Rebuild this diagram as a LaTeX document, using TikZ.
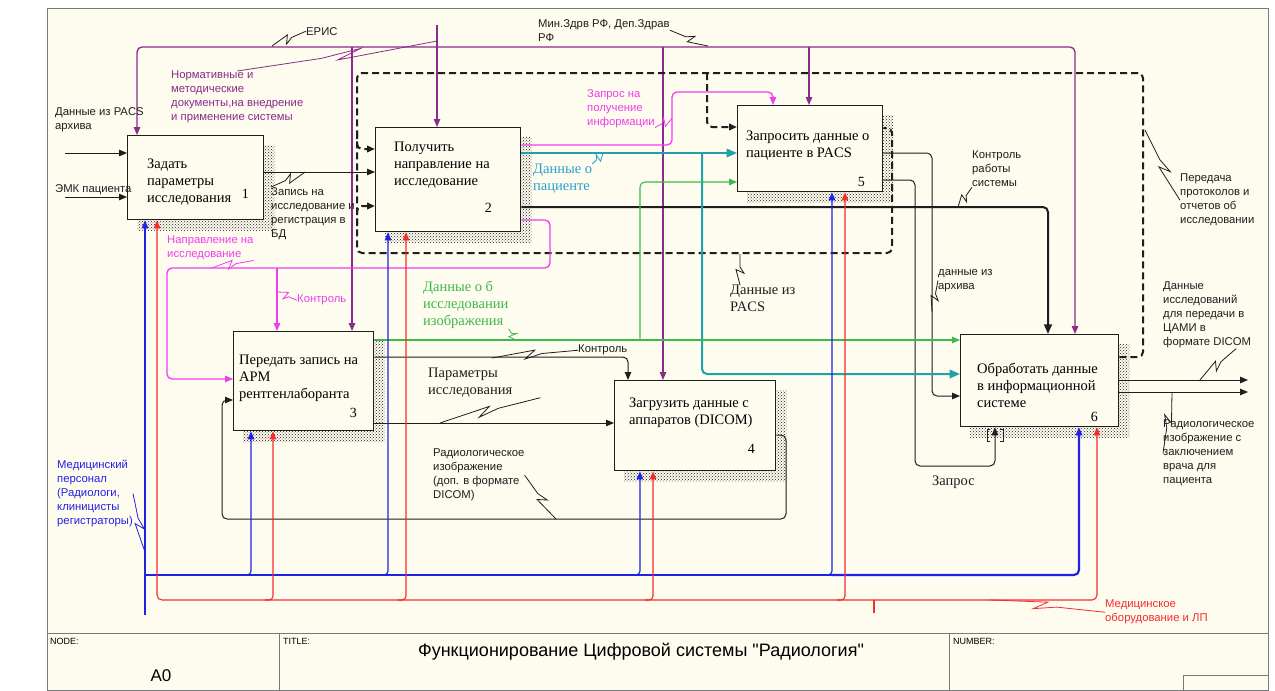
\documentclass[tikz,border=0pt]{standalone}
\usepackage{fontspec}
\setmainfont{Liberation Serif}
\setsansfont{Liberation Sans}
\newfontfamily\titlesans{Liberation Sans}
\usetikzlibrary{arrows.meta, calc, patterns, backgrounds}
\definecolor{idefbg}{HTML}{FEFBEF}
\definecolor{idefframe}{HTML}{7A7A7A}
\definecolor{idefink}{HTML}{1E1E1E}
\definecolor{idefpurple}{HTML}{8B2B8B}
\definecolor{idefmagenta}{HTML}{EE3FEE}
\definecolor{idefteal}{HTML}{1FA3A8}
\definecolor{idefcyan}{HTML}{2A9FD0}
\definecolor{idefgreen}{HTML}{3CB94A}
\definecolor{idefblue}{HTML}{2222E4}
\definecolor{idefred}{HTML}{F42C2C}

\begin{document}
\begin{tikzpicture}[
  x=1pt, y=-1pt,
  func/.style={draw=idefink, line width=1.3pt, fill=idefbg, inner sep=0pt,
    anchor=north west},
  ftxt/.style={anchor=north west, align=left, inner sep=0pt,
    font=\fontsize{14.5}{17}\selectfont},
  fnum/.style={anchor=center, inner sep=0pt, font=\fontsize{14}{16}\selectfont},
  lbl/.style={anchor=north west, align=left, inner sep=0pt,
    font=\sffamily\fontsize{11.3}{14}\selectfont, text=#1},
  lbl/.default=idefink,
  slbl/.style={anchor=north west, align=left, inner sep=0pt,
    font=\fontsize{14.5}{17}\selectfont, text=#1},
  slbl/.default=idefink,
  tbl/.style={anchor=north west, inner sep=0pt, font=\sffamily\fontsize{9}{11}\selectfont},
  arr/.style={-{Triangle[length=8pt, width=6.5pt, scale=#1]}},
  arr/.default=1,
  flow/.style={idefink, line width=1pt},
  heavy/.style={idefink, line width=2pt},
  fb/.style={idefink, line width=2pt, dash pattern=on 7pt off 4pt},
  ctl/.style={idefpurple, line width=1.3pt},
  req/.style={idefmagenta, line width=1.3pt},
  pat/.style={idefteal, line width=2pt},
  img/.style={idefgreen, line width=1.1pt},
  staff/.style={idefblue, line width=1.2pt},
  equip/.style={idefred, line width=1.1pt},
  squig/.style={line width=0.8pt, to path={-- ($(\tikztostart)!.42!(\tikztotarget)$)
    -- ($(\tikztostart)!.62!(\tikztotarget)!4pt!90:(\tikztotarget)$)
    -- ($(\tikztostart)!.5!(\tikztotarget)!4pt!-90:(\tikztotarget)$)
    -- (\tikztotarget)}}
]
  \useasboundingbox (0,0) rectangle (1275,691);

  % Functions
  \node[func, minimum width=136pt, minimum height=84pt,
    label={[ftxt, xshift=20pt, yshift=-24pt]north west:{Задать\\параметры\\исследования}},
    label={[fnum, xshift=-19pt, yshift=26pt]south east:1}] (b1) at (127,135) {};
  \node[func, minimum width=145pt, minimum height=104pt,
    label={[ftxt, xshift=19pt, yshift=-15pt]north west:{Получить\\направление на\\исследование}},
    label={[fnum, xshift=-33pt, yshift=24pt]south east:2}] (b2) at (375,127) {};
  \node[func, minimum width=140pt, minimum height=99pt,
    label={[ftxt, xshift=6pt, yshift=-24pt]north west:{Передать запись на\\АРМ\\рентгенлаборанта}},
    label={[fnum, xshift=-21pt, yshift=18pt]south east:3}] (b3) at (233,331) {};
  \node[func, minimum width=161pt, minimum height=90pt,
    label={[ftxt, xshift=15pt, yshift=-18pt]north west:{Загрузить данные с\\аппаратов (DICOM)}},
    label={[fnum, xshift=-25pt, yshift=22pt]south east:4}] (b4) at (614,380) {};
  \node[func, minimum width=145pt, minimum height=86pt,
    label={[ftxt, xshift=9pt, yshift=-26pt]north west:{Запросить данные о\\пациенте в PACS}},
    label={[fnum, xshift=-22pt, yshift=10pt]south east:5}] (b5) at (737,105) {};
  \node[func, minimum width=158pt, minimum height=92pt,
    label={[ftxt, xshift=17pt, yshift=-29pt]north west:{Обработать данные\\в информационной\\системе}},
    label={[fnum, xshift=-25pt, yshift=10pt]south east:6}] (b6) at (960,334) {};

  % Sheet and shadows
  \begin{scope}[on background layer]
    \fill[idefbg] (47,8) rectangle (1268,690);
    \foreach \i in {1,...,6}
      \fill[pattern=crosshatch dots, pattern color=idefink]
        ([shift={(10,10)}]b\i.north west) rectangle ([shift={(10,10)}]b\i.south east);
  \end{scope}
  \draw[idefframe, line width=1pt] (47,8) rectangle (1268,690);
  \draw[idefframe, line width=1pt] (47,633) -- (1268,633) (279,633) -- (279,690)
    (949,633) -- (949,690) (1183,675) rectangle (1268,690);
  \node[tbl] (nodehdr) at (50,638) {NODE:};
  \node[font=\sffamily\fontsize{17}{20}\selectfont] (nodeid) at (161,676) {A0};
  \node[tbl] (titlehdr) at (283,638) {TITLE:};
  \node[font=\titlesans\fontsize{18}{21}\selectfont] (title) at (641,652)
    {Функционирование Цифровой системы "Радиология"};
  \node[tbl] (numhdr) at (953,638) {NUMBER:};

  % Free ends
  \coordinate (srcNorm) at (437,25);
  \coordinate (inPacs) at (65,153);
  \coordinate (inEmk) at (65,197);
  \coordinate (outDicom) at (1248,380);
  \coordinate (outImg) at (1248,392);
  \coordinate (srcStaff) at (145,615);
  \coordinate (srcEquip) at (874,613);

  % Controls: normative documents
  \draw[ctl, arr] (srcNorm) -- (b2.north -| srcNorm);
  \draw[ctl, arr, rounded corners=5pt] (437,47) -| (b1.north -| 137,0);
  \draw[ctl, arr, rounded corners=5pt] (437,47) -| (b6.north -| 1075,0);
  \foreach \x/\b in {352/b3, 663/b4, 809/b5}
    \draw[ctl, arr] (\x,47) -- (\b.north -| \x,0);

  % Feedback from function 6
  \draw[fb, rounded corners=5pt] (b6.east |- 0,357) -| (1143,73) -| (357,253)
    -| (892,128) -- (b5.east |- 0,128);
  \draw[fb, arr, rounded corners=5pt] (707,73) |- (b5.west |- 0,127);
  \draw[fb, arr, rounded corners=5pt] (357,132) |- (b2.west |- 0,149);
  \draw[fb, arr, rounded corners=5pt] (357,226) |- (b2.west |- 0,206);

  % Black flows
  \draw[flow, arr] (inPacs) -- (b1.west |- inPacs);
  \draw[flow, arr] (inEmk) -- (b1.west |- inEmk);
  \draw[flow, arr] (b1.east |- 0,172) -- (b2.west |- 0,172);
  \draw[heavy, arr=1.2, rounded corners=5pt] (b2.east |- 0,207) -| (b6.north -| 1048,0);
  \draw[flow, arr, rounded corners=5pt] (b3.east |- 0,357) -| (b4.north -| 628,0);
  \draw[flow, arr] (b3.east |- 0,423) -- (b4.west |- 0,423);
  \draw[flow, arr, rounded corners=5pt] (b4.east |- 0,435) -| (786,519) -| (222,400)
    -- (b3.west |- 0,400);
  \draw[flow, arr, rounded corners=5pt] (b5.east |- 0,153) -| (932,396) -- (b6.west |- 0,396);
  \draw[flow, arr, rounded corners=5pt] (b5.east |- 0,180) -| (915,466) -| (b6.south -| 995,0);
  \draw[flow] (990,429) -- (987,429) -- (987,441) -- (990,441)
    (1000,429) -- (1003,429) -- (1003,441) -- (1000,441);
  \draw[flow, arr] (b6.east |- outDicom) -- (outDicom);
  \draw[flow, arr] (b6.east |- outImg) -- (outImg);

  % Patient data
  \draw[pat, arr=1.3] (b2.east |- 0,153) -- (b5.west |- 0,153);
  \draw[pat, arr=1.3, rounded corners=5pt] (702,153) |- (b6.west |- 0,374);

  % Requests and referral
  \draw[req, arr, rounded corners=5pt] (b2.east |- 0,145) -| (672,92) -| (b5.north -| 773,0);
  \draw[req, arr, rounded corners=5pt] (b2.east |- 0,220) -| (550,268) -| (167,379)
    -- (b3.west |- 0,379);
  \draw[req, arr] (277,268) -- (b3.north -| 277,0);

  % Image data
  \draw[img, arr] (b3.east |- 0,340) -- (b6.west |- 0,340);
  \draw[img, arr, rounded corners=5pt] (640,340) |- (b5.west |- 0,182);

  % Mechanisms: staff
  \draw[staff, arr] (srcStaff) -- (b1.south -| srcStaff);
  \draw[staff] (srcStaff |- 0,575) -- (832,575);
  \foreach \x/\b in {251/b3, 388/b2, 640/b4, 832/b5}
    \draw[staff, arr, rounded corners=4pt] ({\x-8},575) -| (\b.south -| \x,0);
  \draw[staff, line width=2.2pt, arr, rounded corners=5pt] (832,575) -| (b6.south -| 1079,0);

  % Mechanisms: equipment
  \draw[equip] (srcEquip) -- (874,600);
  \draw[equip, arr, rounded corners=5pt] (874,600) -| (b1.south -| 157,0);
  \draw[equip, arr, rounded corners=5pt] (874,600) -| (b6.south -| 1097,0);
  \foreach \x/\b in {273/b3, 406/b2, 653/b4, 845/b5}
    \draw[equip, arr, rounded corners=4pt] ({\x-8},600) -| (\b.south -| \x,0);

  % Labels
  \node[lbl] (pacsin) at (55,107) {Данные из PACS\\архива};
  \node[lbl] (emk) at (55,184) {ЭМК пациента};
  \node[lbl] (zapis) at (271,187) {Запись на\\исследование и\\регистрация в\\БД};
  \node[lbl=idefpurple] (norm) at (171,71)
    {Нормативные и\\методические\\документы,на внедрение\\и применение системы};
  \node[lbl] (eris) at (306,27) {ЕРИС};
  \node[lbl] (minzdrav) at (538,19) {Мин.Здрв РФ, Деп.Здрав\\РФ};
  \node[lbl=idefmagenta] (zapinf) at (587,89) {Запрос на\\получение\\информации};
  \node[slbl=idefcyan] (patient) at (533,164) {Данные о\\пациенте};
  \node[lbl] (ctrlsys) at (972,151) {Контроль\\работы\\системы};
  \node[lbl] (protocols) at (1180,174) {Передача\\протоколов и\\отчетов об\\исследовании};
  \node[lbl=idefmagenta] (napr) at (167,236) {Направление на\\исследование};
  \node[lbl=idefmagenta] (ctrl3) at (297,295) {Контроль};
  \node[slbl=idefgreen] (imgdata) at (423,281) {Данные о б\\исследовании\\изображения};
  \node[slbl] (pacsdata) at (730,285) {Данные из\\PACS};
  \node[lbl] (archive) at (938,269) {данные из\\архива};
  \node[lbl] (ctrl4) at (578,345) {Контроль};
  \node[slbl] (params) at (428,368) {Параметры\\исследования};
  \node[lbl] (radio) at (433,449) {Радиологическое\\изображение\\(доп. в формате\\DICOM)};
  \node[slbl] (zapros) at (932,476) {Запрос};
  \node[lbl] (dicomlbl) at (1163,282)
    {Данные\\исследований\\для передачи в\\ЦАМИ в\\формате DICOM};
  \node[lbl] (radio2) at (1163,420)
    {Радиологическое\\изображение с\\заключением\\врача для\\пациента};
  \node[lbl=idefblue] (staffl) at (57,460)
    {Медицинский\\персонал\\(Радиологи,\\клиницисты\\регистраторы)};
  \node[lbl=idefred] (equipl) at (1105,600) {Медицинское\\оборудование и ЛП};

  % Callouts
  \draw[squig, idefpurple] (norm.north) to (437,41);
  \draw[squig, idefink] (eris.west) to (272,46);
  \draw[squig, idefink] (minzdrav.east) to (708,46);
  \draw[squig, idefmagenta] (zapinf.south east) to (672,118);
  \draw[squig, idefcyan] (patient.north east) to (603,153);
  \draw[squig, idefink] (ctrlsys.south west) to (958,207);
  \draw[squig, idefink] (1145,130) to (protocols.west);
  \draw[squig, idefink] (zapis.north west) to (305,172);
  \draw[squig, idefmagenta] (napr.south east) to (212,268);
  \draw[squig, idefmagenta] (ctrl3.west) to (277,292);
  \draw[squig, idefgreen] (imgdata.south east) to (516,340);
  \draw[squig, idefink] (740,254) to ([xshift=10pt]pacsdata.north west);
  \draw[squig, idefink] (archive.west) to (932,312);
  \draw[squig, idefink] (ctrl4.west) to (492,358);
  \draw[squig, idefink] ([xshift=28pt]params.south east) to (440,423);
  \draw[squig, idefink] (radio.east) to (556,519);
  \draw[squig, idefink] ([xshift=-15pt]dicomlbl.south east) to (1200,380);
  \draw[squig, idefink] (radio2.west) to (1172,392);
  \draw[squig, idefblue] (staffl.east) to (145,552);
  \draw[squig, idefred] (equipl.west) to (990,600);
\end{tikzpicture}
\end{document}
